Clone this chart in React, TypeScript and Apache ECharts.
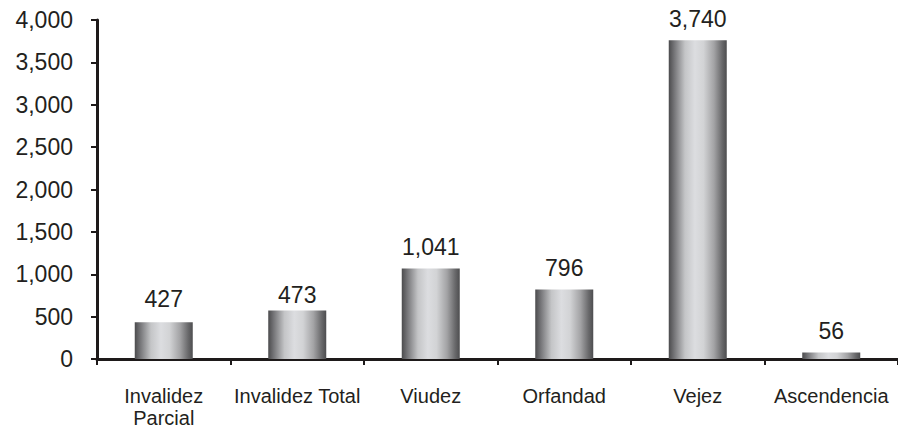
import React, { useEffect, useRef } from "react";
import * as echarts from "echarts";

const categories = ["Invalidez\nParcial", "Invalidez Total", "Viudez", "Orfandad", "Vejez", "Ascendencia"];
// bar heights as drawn in the picture
const barHeights = [434, 572, 1068, 820, 3762, 77];
// values printed above the bars
const printedValues = [427, 473, 1041, 796, 3740, 56];
const yTicks = { min: 0, max: 4000, interval: 500 };

const fmt = (v: number) => v.toLocaleString("en-US");

export default function App() {
  const ref = useRef<HTMLDivElement>(null);
  useEffect(() => {
    if (!ref.current) return;
    const chart = echarts.init(ref.current, null, { renderer: "svg" });
    const font = "'Liberation Sans', Arial, sans-serif";
    const gradient = new echarts.graphic.LinearGradient(0, 0, 1, 0, [
      { offset: 0, color: "#4b4b4d" },
      { offset: 0.1, color: "#77777a" },
      { offset: 0.28, color: "#c4c5c7" },
      { offset: 0.45, color: "#dcdde0" },
      { offset: 0.6, color: "#d2d3d5" },
      { offset: 0.78, color: "#a3a3a5" },
      { offset: 0.92, color: "#69696b" },
      { offset: 1, color: "#4d4d4f" },
    ]);
    chart.setOption({
      animation: false,
      grid: { left: 97, right: 0, top: 20, bottom: 69 },
      xAxis: {
        type: "category",
        data: categories,
        axisLine: { lineStyle: { color: "#1e1a1a", width: 3 } },
        axisTick: { show: true, length: 6, lineStyle: { color: "#1e1a1a", width: 2 } },
        axisLabel: {
          color: "#231f20",
          fontSize: 20,
          fontFamily: font,
          margin: 26,
          lineHeight: 22,
          interval: 0,
        },
      },
      yAxis: {
        type: "value",
        min: yTicks.min,
        max: yTicks.max,
        interval: yTicks.interval,
        splitLine: { show: false },
        axisLine: { show: true, lineStyle: { color: "#1e1a1a", width: 3 } },
        axisTick: { show: true, length: 6, lineStyle: { color: "#1e1a1a", width: 2 } },
        axisLabel: {
          color: "#231f20",
          fontSize: 23,
          fontFamily: font,
          margin: 24,
          formatter: (v: number) => fmt(v),
        },
      },
      series: [
        {
          type: "bar",
          data: barHeights,
          barWidth: 58,
          itemStyle: { color: gradient },
          z: 2,
        },
        {
          type: "bar",
          data: printedValues,
          barWidth: 58,
          barGap: "-100%",
          itemStyle: { color: "rgba(0,0,0,0)" },
          silent: true,
          z: 3,
          label: {
            show: true,
            position: "top",
            distance: 12,
            color: "#231f20",
            fontSize: 23,
            fontFamily: font,
            formatter: (p: any) => fmt(p.value),
          },
        },
      ],
    });
    return () => chart.dispose();
  }, []);
  return (
    <div
      ref={ref}
      style={{ position: "absolute", left: 0, top: 0, width: 898, height: 429 }}
    />
  );
}
